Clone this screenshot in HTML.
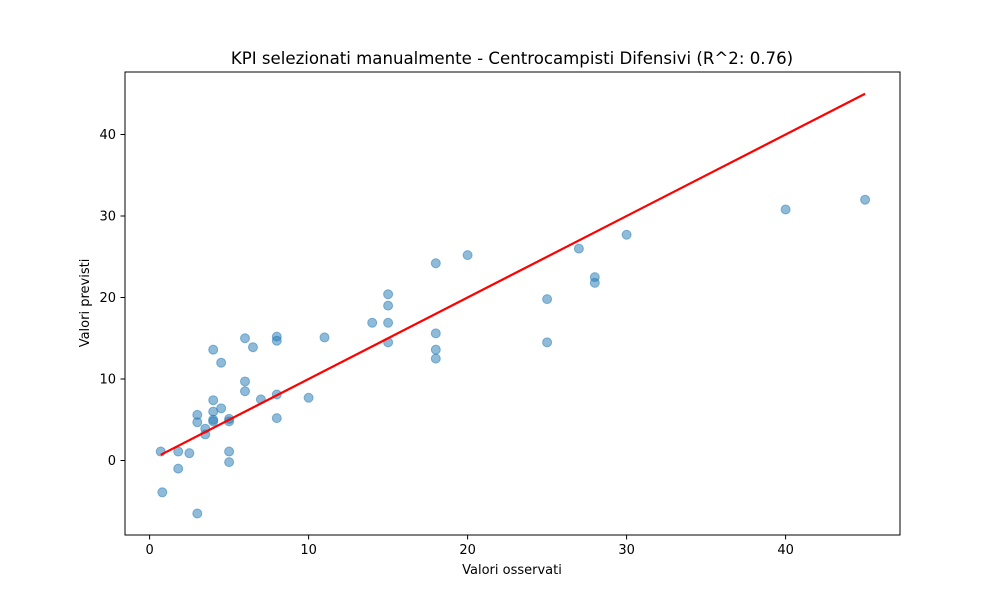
<!DOCTYPE html>
<html><head><meta charset="utf-8"><style>
body{margin:0;background:#fff;font-family:"Liberation Sans","DejaVu Sans",sans-serif;}
svg text{font-family:"DejaVu Sans","Liberation Sans",sans-serif;}
</style></head><body>
<svg id="chart" width="1000" height="600">
<rect width="1000" height="600" fill="#fff"/>
<text x="512" y="64" text-anchor="middle" font-size="16.6">KPI selezionati manualmente - Centrocampisti Difensivi (R^2: 0.76)</text>
<g id="plot"></g>
<rect x="125" y="72" width="775" height="463" fill="none" stroke="#000" stroke-width="1"/>
<text x="512" y="574" text-anchor="middle" font-size="13">Valori osservati</text>
<text transform="translate(89,303) rotate(-90)" text-anchor="middle" font-size="13">Valori previsti</text>
</svg>
<script>
const observed=[0.7,0.8,1.8,1.8,2.5,3,3,3,3.5,3.5,4,4,4,4,4,4.5,4.5,5,5,5,5,6,6,6,6.5,7,8,8,8,8,10,11,14,15,15,15,15,18,18,18,18,20,25,25,27,28,28,30,40,45];
const predicted=[1.1,-3.9,1.1,-1.0,0.9,5.6,4.7,-6.5,3.9,3.2,13.6,7.4,6.0,5.0,4.8,12.0,6.4,5.1,4.8,1.1,-0.2,15.0,9.7,8.5,13.9,7.5,15.2,14.7,8.1,5.2,7.7,15.1,16.9,20.4,19.0,16.9,14.5,24.2,15.6,13.6,12.5,25.2,19.8,14.5,26.0,22.5,21.8,27.7,30.8,32.0];
const xTicks=[0,10,20,30,40];
const yTicks=[0,10,20,30,40];
const fitLine=[0.7,45];
const NS="http://www.w3.org/2000/svg";
const sx=v=>149.6+15.9*v;
const sy=v=>460.5-8.15*v;
const g=document.getElementById('plot');
function mk(t,a){const e=document.createElementNS(NS,t);for(const k in a)e.setAttribute(k,a[k]);g.appendChild(e);return e;}
xTicks.forEach(t=>{
  const l=mk('line',{x1:sx(t),x2:sx(t),y1:535,y2:539.5,stroke:'#000'});
  
  
  const tx=mk('text',{x:sx(t),y:554,'text-anchor':'middle','font-size':'13'});
  tx.textContent=t;
  
  
});
yTicks.forEach(t=>{
  const l=mk('line',{x1:120.5,x2:125,y1:sy(t),y2:sy(t),stroke:'#000'});
  
  
  const tx=mk('text',{x:116,y:sy(t)+4.5,'text-anchor':'end','font-size':'13'});
  tx.textContent=t;
  
  
});
observed.forEach((v,i)=>{
  const c=mk('circle',{cx:sx(v),cy:sy(predicted[i]),r:4.5,fill:'#1f77b4','fill-opacity':0.5,stroke:'#1f77b4','stroke-opacity':0.5});
  
  
});
const ln=mk('line',{x1:sx(fitLine[0]),y1:sy(fitLine[0]),x2:sx(fitLine[1]),y2:sy(fitLine[1]),stroke:'#ff0000','stroke-width':2.2});


</script>
</body></html>
